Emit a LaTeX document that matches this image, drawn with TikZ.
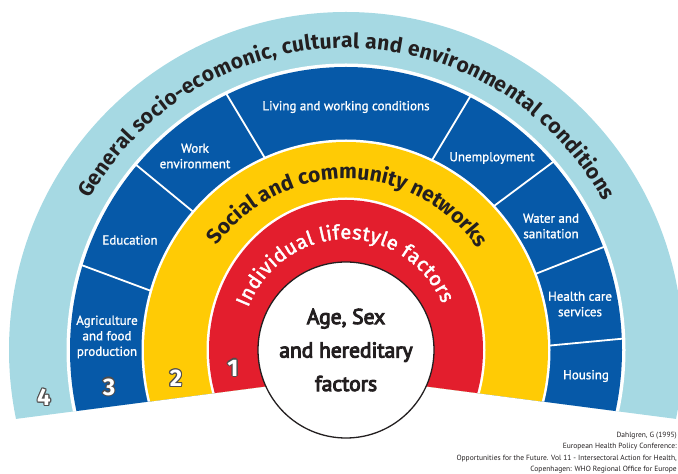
\documentclass[tikz,border=0pt]{standalone}
\usepackage{fontspec}
\setmainfont{Fira Sans}
\newfontfamily\labelfont{PT Sans}
\newfontfamily\segfont[FakeBold=1.2]{PT Sans}
\newfontfamily\corefont[FakeBold=4.5]{PT Sans}
\newfontfamily\redfont[FakeBold=2]{Fira Sans}
\usetikzlibrary{calc,decorations.text}

\definecolor{outerblue}{HTML}{A6D9E3}
\definecolor{ringblue}{HTML}{0659A8}
\definecolor{ringyellow}{HTML}{FFCB05}
\definecolor{ringred}{HTML}{E31E2D}
\definecolor{inkdark}{HTML}{231F20}

\tikzset{
    segment/.style = {text=white,
                    font=\segfont\fontsize{13}{15.5}\selectfont,
                    align=center,
                    inner sep=0pt},
    divider/.style = {draw=white,
                    line width=1.8pt},
    digit/.style =  {text=white,
                    font=\bfseries\fontsize{24}{24}\selectfont,
                    inner sep=0pt},
    digit rim/.style = {text=inkdark!80,
                    font=\bfseries\fontsize{24}{24}\selectfont,
                    inner sep=0pt},
    core/.style =   {circle,
                    fill=white,
                    draw=inkdark,
                    line width=1.3pt,
                    minimum size=176pt,
                    inner sep=0pt,
                    align=center,
                    text=inkdark,
                    font=\corefont\fontsize{21.5}{33.5}\selectfont},
    source/.style = {align=right,
                    text=inkdark,
                    inner sep=1pt,
                    font=\labelfont\fontsize{7.5}{11.2}\selectfont}
}

\begin{document}
\begin{tikzpicture}[x=1pt,y=1pt]
    \useasboundingbox (0,0) rectangle (678,474);
    \coordinate (C) at (346,124);

    % the four bands, cut off along the bottom
    \begin{scope}
        \clip (-10,51.7) -- (346,98) -- (702,51.7) -- (702,480) -- (-10,480) -- cycle;
        \fill[outerblue] (C) ellipse [x radius=337pt, y radius=338pt];
        \fill[white]     (C) ellipse [x radius=279.5pt, y radius=286.5pt];
        \fill[ringblue]  (C) ellipse [x radius=276pt, y radius=283pt];
        \fill[white]     (C) ellipse [x radius=204.5pt, y radius=210.5pt];
        \fill[ringyellow] (C) ellipse [x radius=202pt, y radius=208pt];
        \fill[white]     (C) ellipse [x radius=139.5pt, y radius=152.5pt];
        \fill[ringred]   (C) ellipse [x radius=137pt, y radius=150pt];
        \foreach \a/\b in {163.6/162.6, 138.7/139.3, 113.5/115.6, 65/63.3, 43.4/41.5, 21.3/21.3, 1.2/2.3}
            \draw[divider] ($(C)+(\a:203pt and 209pt)$) -- ($(C)+(\b:278pt and 285pt)$);
    \end{scope}

    % curved band titles
    \path[decorate, decoration={text along path, text align=fit to path, text color=inkdark,
            text={|\bfseries\fontsize{21}{21}\selectfont|General socio-ecomonic, cultural and environmental conditions}}]
        ($(C)+(150:296pt and 302pt)$) arc [start angle=150, end angle=29.5, x radius=296pt, y radius=302pt];
    \path[decorate, decoration={text along path, text align=fit to path, text color=inkdark,
            text={|\bfseries\fontsize{21}{21}\selectfont|Social and community networks}}]
        ($(C)+(142.5:163pt and 171pt)$) arc [start angle=142.5, end angle=37.5, x radius=163pt, y radius=171pt];
    \path[decorate, decoration={text along path, text align=fit to path, text color=white,
            text={|\redfont\fontsize{20}{20}\selectfont|Individual lifestyle factors}}]
        ($(C)+(157.5:106pt and 111pt)$) arc [start angle=157.5, end angle=24.5, x radius=106pt, y radius=111pt];

    % blue segments
    \node[segment] (living)   at (346,367) {Living and working conditions};
    \node[segment] (work)     at (195,318) {Work\\environment};
    \node[segment] (unemploy) at (492,316) {Unemployment};
    \node[segment] (edu)      at (130,234) {Education};
    \node[segment] (water)    at (551,248) {Water and\\sanitation};
    \node[segment] (health)   at (580,170) {Health care\\services};
    \node[segment] (housing)  at (586,98)  {Housing};
    \node[segment] (agri)     at (107,137) {Agriculture\\and food\\production};

    % band numbers, white with a dark rim
    \foreach \n/\x/\y in {4/44/77, 3/109/87, 2/176/96, 1/233/106} {
        \foreach \ang in {0,45,...,315}
            \node[digit rim] (rim\n\ang) at ($(\x,\y)+(\ang:1.2pt)$) {\n};
        \node[digit] (band\n) at (\x,\y) {\n};
    }

    \node[core] (age) at (C) {Age, Sex\\and hereditary\\factors};

    \node[source, anchor=south east] (ref) at (678,0)
        {Dahlgren, G (1995)\\European Health Policy Conference:\\Opportunities for the Future. Vol 11 - Intersectoral Action for Health,\\Copenhagen: WHO Regional Office for Europe};
\end{tikzpicture}
\end{document}
